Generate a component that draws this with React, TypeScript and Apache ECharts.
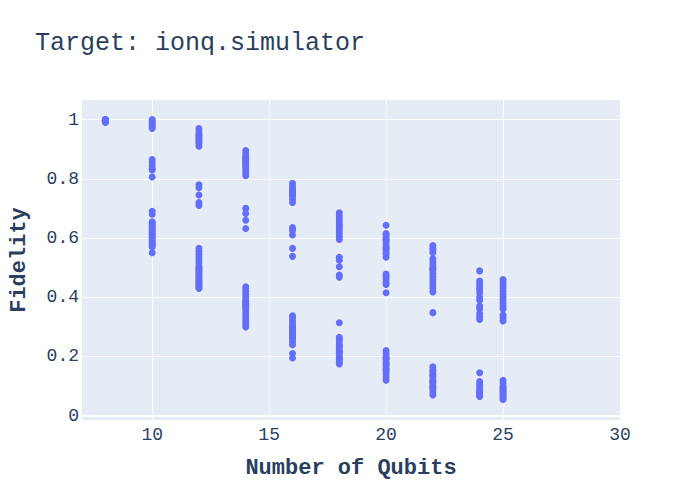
import React, { useEffect, useRef } from "react";
import * as echarts from "echarts";

const titleText = "Target: ionq.simulator";
const xTitle = "Number of Qubits";
const yTitle = "Fidelity";
const xTicks = [10, 15, 20, 25, 30];
const yTicks = [0, 0.2, 0.4, 0.6, 0.8, 1];

const qubits = [8, 10, 12, 14, 16, 18, 20, 22, 24, 25];

const fid8 = [1.0, 0.999, 0.998, 0.997, 0.996, 0.995, 0.994, 0.993, 0.992, 0.99, 1.0, 0.998];
const fid10 = [1.0, 0.995, 0.99, 0.985, 0.98, 0.975, 0.97, 0.865, 0.855, 0.845, 0.835, 0.83, 0.806, 0.69, 0.68, 0.655, 0.65, 0.645, 0.64, 0.635, 0.63, 0.625, 0.62, 0.615, 0.61, 0.605, 0.6, 0.595, 0.59, 0.585, 0.58, 0.575, 0.57, 0.55];
const fid12 = [0.97, 0.96, 0.95, 0.945, 0.94, 0.935, 0.93, 0.925, 0.92, 0.91, 0.78, 0.77, 0.745, 0.72, 0.71, 0.565, 0.555, 0.545, 0.535, 0.525, 0.515, 0.505, 0.5, 0.495, 0.49, 0.485, 0.48, 0.475, 0.47, 0.465, 0.46, 0.455, 0.45, 0.445, 0.44, 0.435, 0.43];
const fid14 = [0.895, 0.885, 0.875, 0.87, 0.865, 0.86, 0.855, 0.85, 0.845, 0.84, 0.83, 0.82, 0.81, 0.7, 0.683, 0.66, 0.632, 0.435, 0.43, 0.42, 0.41, 0.4, 0.39, 0.385, 0.38, 0.375, 0.37, 0.365, 0.36, 0.35, 0.34, 0.33, 0.32, 0.31, 0.3];
const fid16 = [0.785, 0.775, 0.765, 0.76, 0.755, 0.75, 0.745, 0.74, 0.73, 0.72, 0.635, 0.625, 0.61, 0.565, 0.538, 0.337, 0.33, 0.32, 0.31, 0.3, 0.295, 0.29, 0.285, 0.28, 0.275, 0.27, 0.265, 0.26, 0.25, 0.24, 0.21, 0.195];
const fid18 = [0.685, 0.675, 0.665, 0.655, 0.645, 0.64, 0.635, 0.625, 0.615, 0.605, 0.595, 0.535, 0.525, 0.503, 0.475, 0.468, 0.314, 0.265, 0.258, 0.25, 0.24, 0.235, 0.23, 0.22, 0.215, 0.21, 0.2, 0.195, 0.19, 0.18, 0.175];
const fid20 = [0.643, 0.615, 0.61, 0.6, 0.595, 0.59, 0.58, 0.57, 0.565, 0.56, 0.55, 0.545, 0.535, 0.478, 0.47, 0.46, 0.45, 0.443, 0.415, 0.22, 0.21, 0.2, 0.195, 0.19, 0.18, 0.175, 0.17, 0.16, 0.155, 0.15, 0.14, 0.13, 0.12];
const fid22 = [0.575, 0.565, 0.56, 0.55, 0.53, 0.52, 0.51, 0.5, 0.495, 0.49, 0.48, 0.47, 0.46, 0.45, 0.44, 0.43, 0.418, 0.348, 0.165, 0.155, 0.15, 0.14, 0.135, 0.13, 0.12, 0.115, 0.11, 0.1, 0.095, 0.09, 0.08, 0.07];
const fid24 = [0.489, 0.455, 0.445, 0.435, 0.425, 0.415, 0.4, 0.39, 0.37, 0.36, 0.345, 0.335, 0.325, 0.145, 0.115, 0.105, 0.1, 0.09, 0.085, 0.08, 0.075, 0.07, 0.065];
const fid25 = [0.46, 0.45, 0.44, 0.43, 0.42, 0.41, 0.4, 0.39, 0.38, 0.37, 0.36, 0.34, 0.33, 0.32, 0.12, 0.11, 0.1, 0.095, 0.09, 0.085, 0.08, 0.075, 0.07, 0.065, 0.06, 0.055];

const fidelities = [fid8, fid10, fid12, fid14, fid16, fid18, fid20, fid22, fid24, fid25];

const FONT = "'Liberation Mono', 'DejaVu Sans Mono', monospace";
const TEXT = "#2a3f5f";

export default function App() {
  const ref = useRef<HTMLDivElement>(null);
  useEffect(() => {
    if (!ref.current) return;
    const chart = echarts.init(ref.current, undefined, { renderer: "svg" });
    const data: number[][] = [];
    qubits.forEach((q, i) => {
      fidelities[i].forEach((f) => data.push([q, f]));
    });
    chart.setOption({
      animation: false,
      backgroundColor: "#ffffff",
      textStyle: { fontFamily: FONT },
      title: {
        text: titleText,
        left: 30,
        top: 26,
        textStyle: { fontFamily: FONT, fontSize: 25, fontWeight: "normal", color: TEXT },
      },
      grid: {
        left: 80,
        right: 80,
        top: 100,
        bottom: 80,
        show: true,
        backgroundColor: "#E5ECF6",
        borderWidth: 0,
      },
      xAxis: {
        type: "value",
        min: 7,
        max: 30,
        name: xTitle,
        nameLocation: "middle",
        nameGap: 37,
        nameTextStyle: { fontFamily: FONT, fontSize: 22, fontWeight: "bold", color: TEXT },
        axisLine: { show: false },
        axisTick: { show: false, customValues: xTicks },
        axisLabel: { customValues: xTicks, margin: 6, fontSize: 18, color: TEXT, fontFamily: FONT },
        splitLine: { show: true, lineStyle: { color: "#ffffff", width: 1 } },
      },
      yAxis: {
        type: "value",
        min: -0.0145,
        max: 1.066,
        name: yTitle,
        nameLocation: "middle",
        nameGap: 52,
        nameTextStyle: { fontFamily: FONT, fontSize: 22, fontWeight: "bold", color: TEXT },
        axisLine: { show: false },
        axisTick: { show: false, customValues: yTicks },
        axisLabel: {
          customValues: yTicks,
          margin: 3,
          fontSize: 18,
          color: TEXT,
          fontFamily: FONT,
          formatter: (v: number) => String(Math.round(v * 10) / 10),
        },
        splitLine: { show: true, lineStyle: { color: "#ffffff", width: 1 } },
      },
      series: [
        {
          type: "scatter",
          data,
          symbolSize: 7,
          itemStyle: { color: "#636EFA", opacity: 1 },
          markLine: {
            silent: true,
            symbol: "none",
            label: { show: false },
            lineStyle: { color: "#ffffff", width: 2, type: "solid" },
            data: [{ yAxis: 0 }],
            z: 1,
          },
        },
      ],
    });
    return () => chart.dispose();
  }, []);
  return <div ref={ref} style={{ width: 700, height: 500, position: "absolute", left: 0, top: 0 }} />;
}
